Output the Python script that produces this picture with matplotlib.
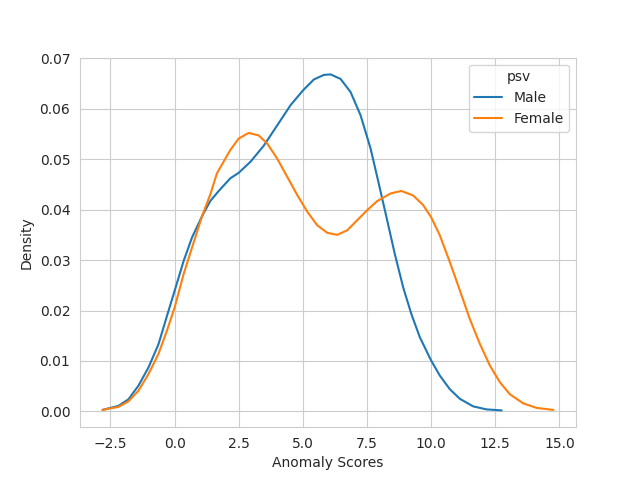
import numpy as np
import matplotlib
matplotlib.use("Agg")
import matplotlib.pyplot as plt
import seaborn as sns

# density curves (x = anomaly score, y = density)
male_x = [-2.81, -2.50, -2.19, -1.80, -1.41, -1.02, -0.63, -0.30, 0.00, 0.35, 0.68, 1.07,
          1.39, 1.72, 2.17, 2.50, 2.96, 3.48, 4.00, 4.52, 5.00, 5.43, 5.82, 6.08, 6.47,
          6.86, 7.25, 7.64, 7.93, 8.26, 8.58, 8.91, 9.23, 9.56, 10.00, 10.34, 10.73,
          11.12, 11.64, 12.16, 12.75]
male_y = [0.0003, 0.0007, 0.0011, 0.0024, 0.0051, 0.0087, 0.0133, 0.0189, 0.0239, 0.0298,
          0.0345, 0.0387, 0.0417, 0.0437, 0.0462, 0.0473, 0.0495, 0.0527, 0.0567, 0.0607,
          0.0636, 0.0658, 0.0667, 0.0668, 0.0659, 0.0633, 0.0587, 0.0521, 0.0458, 0.0385,
          0.0313, 0.0246, 0.0193, 0.0147, 0.0101, 0.0071, 0.0044, 0.0025, 0.0010, 0.0004,
          0.0002]

female_x = [-2.81, -2.19, -1.80, -1.41, -1.02, -0.63, -0.30, 0.00, 0.35, 0.68, 1.07, 1.39,
            1.65, 2.17, 2.50, 2.89, 3.28, 3.61, 4.00, 4.39, 4.78, 5.17, 5.56, 5.95, 6.34,
            6.73, 7.12, 7.51, 7.90, 8.42, 8.84, 9.30, 9.69, 10.00, 10.34, 10.73, 11.12,
            11.51, 11.90, 12.29, 12.68, 13.07, 13.59, 14.11, 14.77]
female_y = [0.0003, 0.0009, 0.0020, 0.0041, 0.0074, 0.0114, 0.0160, 0.0206, 0.0272, 0.0325,
            0.0387, 0.0430, 0.0472, 0.0518, 0.0541, 0.0552, 0.0547, 0.0531, 0.0501, 0.0465,
            0.0429, 0.0396, 0.0369, 0.0354, 0.0350, 0.0359, 0.0379, 0.0399, 0.0417, 0.0432,
            0.0437, 0.0428, 0.0409, 0.0385, 0.0349, 0.0296, 0.0240, 0.0183, 0.0134, 0.0091,
            0.0058, 0.0034, 0.0016, 0.0007, 0.0003]

groups = ["Male", "Female"]

sns.set_style("whitegrid")
fig, ax = plt.subplots(figsize=(6.4, 4.8), dpi=100)
ax.plot(male_x, male_y, color="#1f77b4", linewidth=1.5, label=groups[0])
ax.plot(female_x, female_y, color="#ff7f0e", linewidth=1.5, label=groups[1])
ax.set_xlabel("Anomaly Scores")
ax.set_ylabel("Density")
ax.set_xticks(np.arange(-2.5, 15.1, 2.5))
ax.legend(title="psv", loc="upper right")
fig.savefig("out.png")
